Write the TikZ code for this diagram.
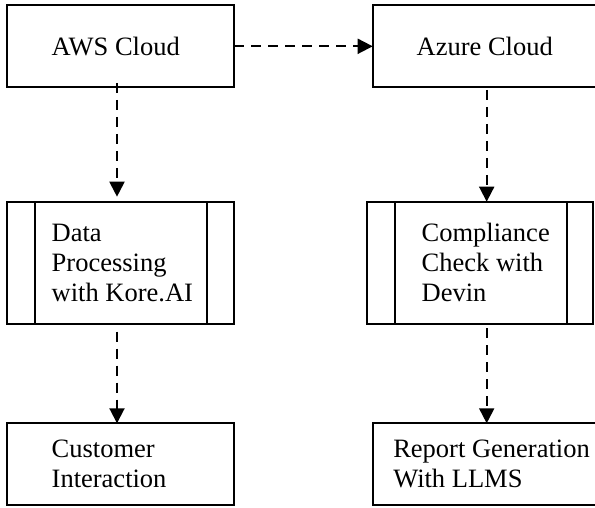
\documentclass[tikz,border=0pt]{standalone}
\usepackage{fontspec}
\setmainfont{Liberation Serif}
\usetikzlibrary{arrows.meta,calc}
\newcommand\ltext[3]{\makebox[#1][l]{\hspace*{#2}\vbox{\halign{##\hfil\cr#3\crcr}}}}
\begin{document}
\begin{tikzpicture}[x=1pt,y=-1pt,
  box/.style={draw,line width=1.9pt,inner sep=0pt,outer sep=0pt,
    anchor=north west,minimum height=#1,
    font=\fontsize{26.5}{30}\selectfont},
  flow/.style={line width=1.9pt,dash pattern=on 10pt off 7pt,
    -{Triangle[length=15pt,width=15pt]}},
  sideline/.style={line width=1.9pt}]
\useasboundingbox (0,0) rectangle (595,508);
% boxes
\node[box=82pt] (aws) at (7.3,5.3) {\ltext{226.7pt}{44.4pt}{AWS Cloud}};
\node[box=82pt] (azure) at (372.7,5.3) {\ltext{225.3pt}{44pt}{Azure Cloud}};
\node[box=122.3pt] (data) at (7.3,201.7) {\ltext{226.7pt}{44.4pt}{Data\cr Processing\cr with Kore.AI}};
\node[box=122.3pt] (comp) at (367.3,201.7) {\ltext{225.4pt}{54.4pt}{Compliance\cr Check with\cr Devin}};
\node[box=81.7pt] (cust) at (7.3,423.3) {\ltext{226.7pt}{44.4pt}{Customer\cr Interaction}};
\node[box=81.7pt] (rep) at (372.7,423.3) {\ltext{225.3pt}{20.6pt}{Report Generation\cr With LLMS}};
% predefined-process side lines
\draw[sideline] ([xshift=27.7pt]data.north west) -- ([xshift=27.7pt]data.south west);
\draw[sideline] ([xshift=-27.3pt]data.north east) -- ([xshift=-27.3pt]data.south east);
\draw[sideline] ([xshift=27.7pt]comp.north west) -- ([xshift=27.7pt]comp.south west);
\draw[sideline] ([xshift=-25.4pt]comp.north east) -- ([xshift=-25.4pt]comp.south east);
% columns for vertical connectors
\coordinate (colL) at (117,0);
\coordinate (colR) at (486.7,0);
% connectors
\draw[flow] (aws.east) -- (azure.west);
\draw[flow] ($(aws.south -| colL)+(0,-4.3)$) -- ($(data.north -| colL)+(0,-5)$);
\draw[flow] ($(azure.south -| colR)+(0,2.7)$) -- (comp.north -| colR);
\draw[flow] ($(data.south -| colL)+(0,7.7)$) -- (cust.north -| colL);
\draw[flow] ($(comp.south -| colR)+(0,4.3)$) -- (rep.north -| colR);
\end{tikzpicture}
\end{document}
